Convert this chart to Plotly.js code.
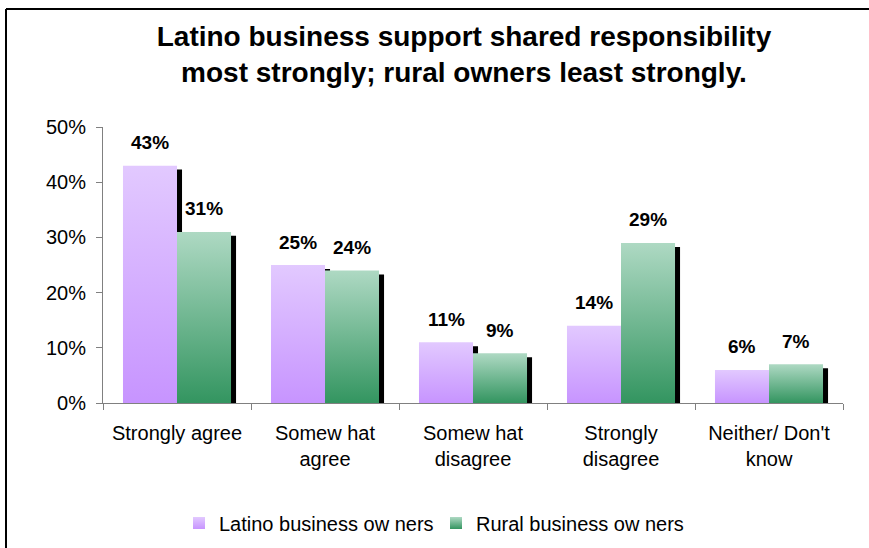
<!DOCTYPE html>
<html>
<head>
<meta charset="utf-8">
<script src="https://cdn.plot.ly/plotly-3.0.1.min.js"></script>
<style>
html,body{margin:0;padding:0;background:#fff;}
#chart{width:869px;height:548px;}
</style>
</head>
<body>
<div id="chart"></div>
<script>
// ---- data ----
const categories = ["Strongly agree", "Somew hat<br>agree", "Somew hat<br>disagree", "Strongly<br>disagree", "Neither/ Don't<br>know"];
const latinoValues = [43, 25, 11, 14, 6];
const ruralValues = [31, 24, 9, 29, 7];
const seriesNames = ["Latino business ow ners", "Rural business ow ners"];
const yTickValues = [0, 10, 20, 30, 40, 50];
const yTickLabels = ["0%", "10%", "20%", "30%", "40%", "50%"];

// ---- style ----
const FONT = "Liberation Sans, Arial, sans-serif";
const FS = 20;
const BARW = 0.365;          // bar width in category units
const SHX = 0.034;           // shadow x shift (category units)
const SHY = 0.72;            // shadow y drop (value units)
const latinoFlat = "#d4b0ff";
const ruralFlat = "#6fb58f";

const shadowLatino = {
  type: "bar", x: categories, y: latinoValues.map(v => v - SHY),
  offset: -BARW + SHX, width: BARW,
  marker: {color: "#000", line: {width: 0}},
  showlegend: false, hoverinfo: "skip"
};
const shadowRural = {
  type: "bar", x: categories, y: ruralValues.map(v => v - SHY),
  offset: SHX, width: BARW,
  marker: {color: "#000", line: {width: 0}},
  showlegend: false, hoverinfo: "skip"
};
const latino = {
  type: "bar", name: seriesNames[0], x: categories, y: latinoValues,
  offset: -BARW, width: BARW,
  marker: {color: latinoFlat, line: {width: 0}}
};
const rural = {
  type: "bar", name: seriesNames[1], x: categories, y: ruralValues,
  offset: 0, width: BARW,
  marker: {color: ruralFlat, line: {width: 0}}
};

const annotations = [];
categories.forEach((c, i) => {
  annotations.push({x: c, y: latinoValues[i], xref: "x", yref: "y", text: latinoValues[i] + "%",
    showarrow: false, xshift: -27, yshift: 23, yanchor: "middle",
    font: {family: FONT, size: 19, color: "#000", weight: "bold"}});
  annotations.push({x: c, y: ruralValues[i], xref: "x", yref: "y", text: ruralValues[i] + "%",
    showarrow: false, xshift: 27, yshift: 23, yanchor: "middle",
    font: {family: FONT, size: 19, color: "#000", weight: "bold"}});
});

const layout = {
  width: 869, height: 548,
  paper_bgcolor: "#fff", plot_bgcolor: "#fff",
  margin: {l: 103, r: 26, t: 127, b: 145},
  barmode: "overlay",
  font: {family: FONT, size: FS, color: "#000"},
  title: {
    text: "<b>Latino business support shared responsibility<br>most strongly; rural owners least strongly.</b>",
    font: {family: FONT, size: 28, color: "#000"},
    x: 464 / 869, xref: "container", xanchor: "center",
    y: 1 - 46 / 548, yref: "container", yanchor: "top"
  },
  xaxis: {
    type: "category", range: [-0.5, 4.5],
    showline: true, linecolor: "#808080", linewidth: 1,
    ticks: "outside", tickson: "boundaries", ticklen: 6, tickcolor: "#808080",
    showgrid: false, zeroline: false,
    ticklabelstandoff: 12,
    tickfont: {family: FONT, size: FS, color: "#000"}
  },
  yaxis: {
    range: [0, 50], tickvals: yTickValues, ticktext: yTickLabels,
    showline: true, linecolor: "#808080", linewidth: 1,
    ticks: "outside", ticklen: 6, tickcolor: "#808080",
    showgrid: false, zeroline: false,
    ticklabelstandoff: 6,
    tickfont: {family: FONT, size: FS, color: "#000"}
  },
  legend: {
    orientation: "h", x: 179 / 869, xanchor: "left", xref: "container",
    y: 1 - 523 / 548, yanchor: "middle", yref: "container",
    font: {family: FONT, size: FS, color: "#000"},
    entrywidth: 212, entrywidthmode: "pixels",
    itemwidth: 30, traceorder: "normal", bgcolor: "rgba(0,0,0,0)"
  },
  annotations: annotations,
  shapes: [
    {type: "line", xref: "paper", yref: "paper", x0: -97/740, x1: 1 + 26/740, y0: 1 + 118/276, y1: 1 + 118/276,
     line: {color: "#000", width: 2}},
    {type: "line", xref: "paper", yref: "paper", x0: -97/740, x1: -97/740, y0: 1 + 118/276, y1: -145/276,
     line: {color: "#000", width: 2}}
  ],
  showlegend: true
};

function applyGradients(gd) {
  const svg = gd.querySelector("svg.main-svg");
  const ns = "http://www.w3.org/2000/svg";
  let defs = svg.querySelector("defs");
  if (!defs) { defs = document.createElementNS(ns, "defs"); svg.insertBefore(defs, svg.firstChild); }
  function grad(id, top, bottom) {
    const g = document.createElementNS(ns, "linearGradient");
    g.setAttribute("id", id);
    g.setAttribute("x1", "0"); g.setAttribute("y1", "0");
    g.setAttribute("x2", "0"); g.setAttribute("y2", "1");
    const s1 = document.createElementNS(ns, "stop");
    s1.setAttribute("offset", "0"); s1.setAttribute("stop-color", top);
    const s2 = document.createElementNS(ns, "stop");
    s2.setAttribute("offset", "1"); s2.setAttribute("stop-color", bottom);
    g.appendChild(s1); g.appendChild(s2); defs.appendChild(g);
  }
  grad("gradLatino", "#e2c9ff", "#c794ff");
  grad("gradRural", "#aed9c3", "#339560");
  const traces = gd.querySelectorAll(".barlayer .trace");
  [[2, "gradLatino"], [3, "gradRural"]].forEach(([idx, id]) => {
    if (traces[idx]) traces[idx].querySelectorAll("path").forEach(p => { p.style.fill = "url(#" + id + ")"; });
  });
  const legendPts = gd.querySelectorAll(".legend .traces");
  legendPts.forEach((t, i) => {
    const id = i === 0 ? "gradLatino" : "gradRural";
    t.querySelectorAll(".legendpoints path").forEach(p => { p.style.fill = "url(#" + id + ")"; });
  });
}

Plotly.newPlot("chart", [shadowLatino, shadowRural, latino, rural], layout, {displayModeBar: false, staticPlot: true})
  .then(gd => applyGradients(gd));
</script>
</body>
</html>
